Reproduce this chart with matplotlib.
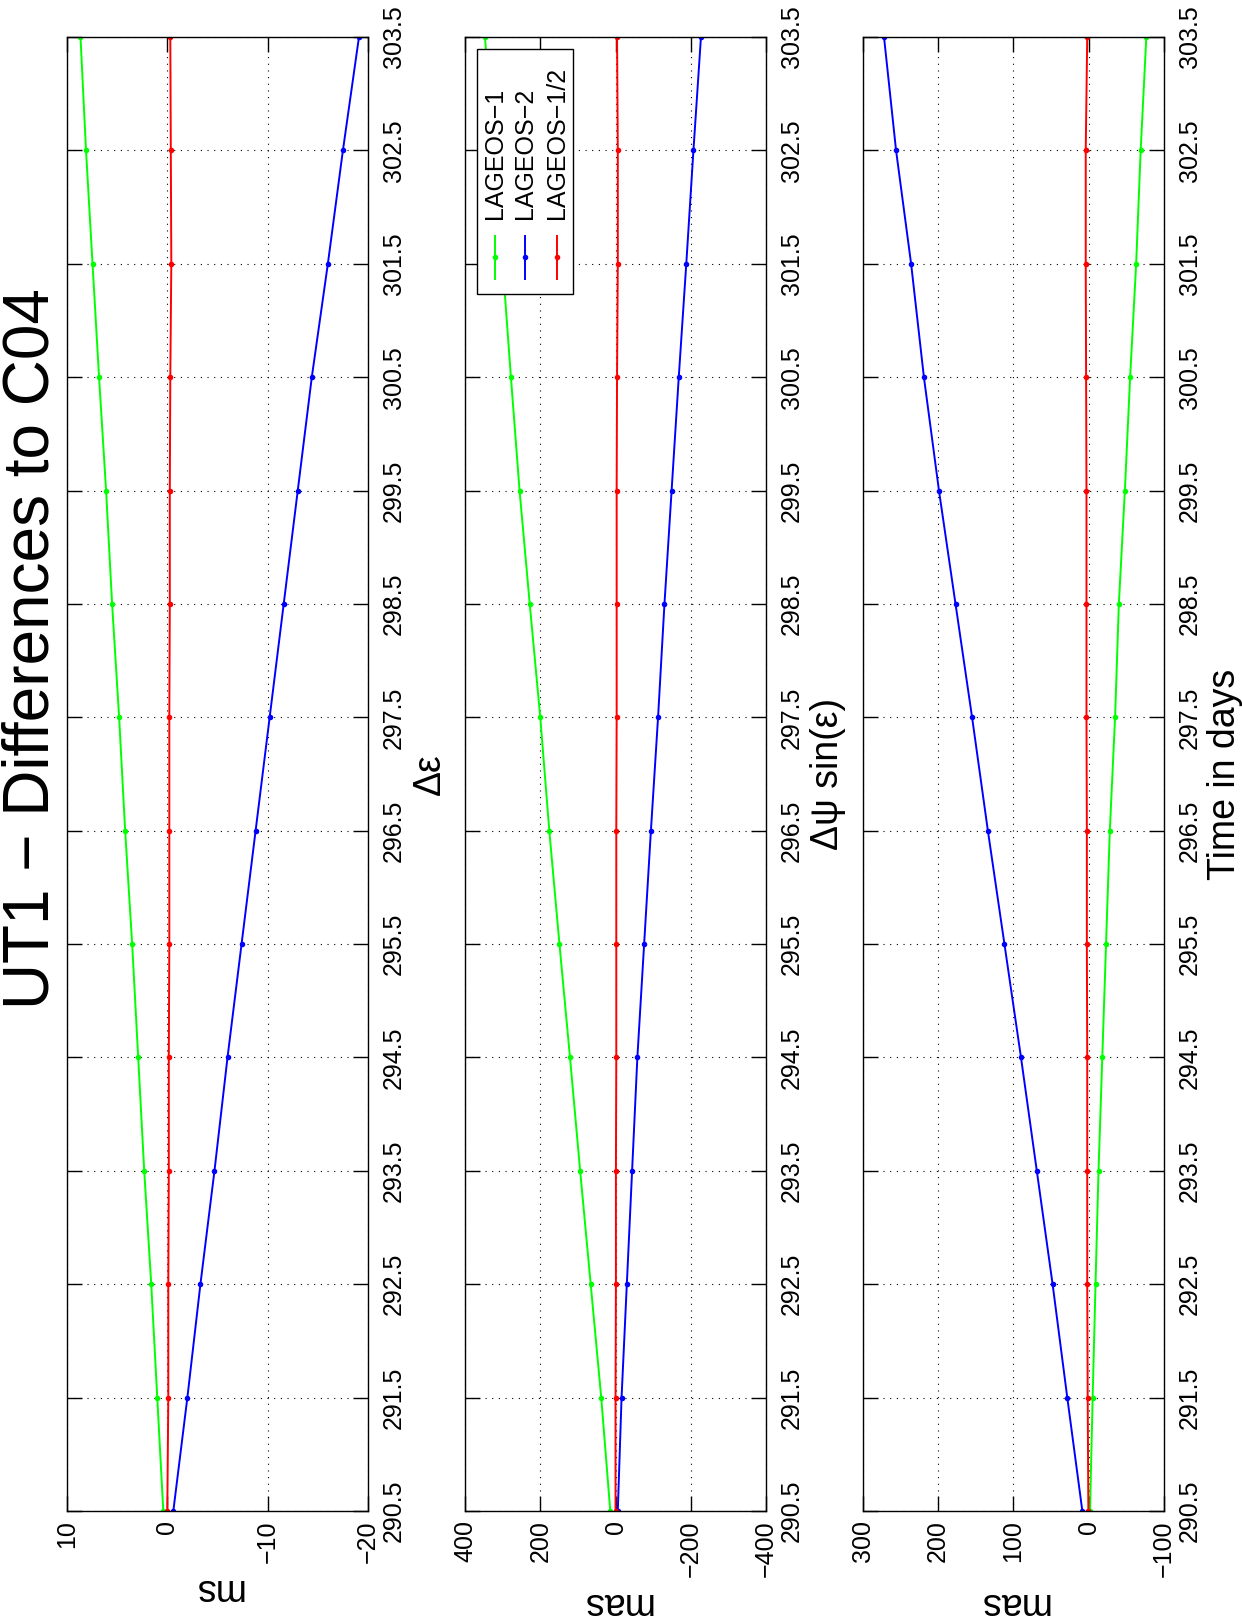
import matplotlib.pyplot as plt
from matplotlib.patches import Rectangle

plt.rcParams['font.family'] = ['Liberation Sans', 'DejaVu Sans']

# Epoques (jours)
jours = [290.5, 291.5, 292.5, 293.5, 294.5, 295.5, 296.5,
         297.5, 298.5, 299.5, 300.5, 301.5, 302.5, 303.5]

# Delta epsilon (ms)
deps_l1 = [0.4, 1.0, 1.6, 2.3, 2.9, 3.5, 4.2, 4.8, 5.5, 6.1, 6.8, 7.45, 8.1, 8.65]
deps_l2 = [-0.6, -2.0, -3.3, -4.7, -6.0, -7.4, -8.8, -10.2, -11.6, -13.0, -14.4, -16.0, -17.5, -19.1]
deps_l12 = [0.0, -0.1, -0.1, -0.15, -0.15, -0.2, -0.2, -0.2, -0.25, -0.25, -0.3, -0.4, -0.35, -0.3]

# Delta psi sin(eps) (mas)
dpsi_l1 = [14, 38, 66, 94, 121, 149, 176, 200, 228, 255, 278, 300, 324, 347]
dpsi_l2 = [-6, -16, -30, -44, -58, -76, -94, -113, -130, -149, -168, -188, -207, -227]
dpsi_l12 = [0, 0, -1, -1, -2, -2, -2, -3, -3, -3, -4, -6, -6, -4]

# Temps (mas)
dt_l1 = [-1.7, -5.2, -9, -13, -18, -23, -28, -35, -40, -48, -55, -63, -69, -76.5]
dt_l2 = [8.5, 28.5, 48, 69, 90, 112, 134, 155, 177, 199, 219, 236, 256, 272]
dt_l12 = [0.5, 1.4, 2, 2, 2, 2.5, 2.5, 3, 3, 3, 3.5, 4, 4, 2]

series = ['LAGEOS\u22121', 'LAGEOS\u22122', 'LAGEOS\u22121/2']
couleurs = ['#00ff00', '#0000ff', '#ff0000']

ticks_ms = [10, 0, -10, -20]
ticks_psi = [400, 200, 0, -200, -400]
ticks_temps = [300, 200, 100, 0, -100]

panneaux = [
    (0.0539, [deps_l1, deps_l2, deps_l12], ticks_ms, 'ms', '\u0394\u03b5'),
    (0.3744, [dpsi_l1, dpsi_l2, dpsi_l12], ticks_psi, 'mas', '\u0394\u03c8 sin(\u03b5)'),
    (0.6948, [dt_l1, dt_l2, dt_l12], ticks_temps, 'mas', 'Time in days'),
]

fig = plt.figure(figsize=(12.42, 16.23), dpi=100)

axes = []
for gauche, valeurs, ticks, unite, legende_axe in panneaux:
    ax = fig.add_axes([gauche, 0.069, 0.2424, 0.9082])
    for v, c in zip(valeurs, couleurs):
        ax.plot(v, jours, '-', color=c, lw=1.4, marker='o', ms=4, mew=0)

    ax.set_xlim(ticks[0], ticks[-1])
    ax.set_ylim(jours[0], jours[-1])
    ax.set_xticks(ticks)
    ax.set_yticks(jours)
    ax.set_yticklabels([f'{j:.1f}' for j in jours])

    ax.tick_params(direction='in', length=11, width=1, labelsize=18,
                   top=True, bottom=True, left=True, right=True,
                   labelleft=False, labelright=True)
    ax.tick_params(axis='x', labelrotation=90, pad=6.5)
    ax.tick_params(axis='y', labelrotation=90, pad=10)
    for t in ax.get_yticklabels():
        t.set_va('center')

    ax.grid(True, color='k', linestyle=(0, (1, 5)), linewidth=0.8)
    ax.set_axisbelow(True)
    for s in ax.spines.values():
        s.set_linewidth(1)

    ax.set_xlabel(unite, rotation=180, fontsize=27, labelpad=6)
    ax.yaxis.set_label_position('right')
    ax.set_ylabel(legende_axe, rotation=90, fontsize=27, labelpad=4)
    axes.append(ax)

# Legende (tournee) dans le panneau du milieu
ax = axes[1]
ax.add_patch(Rectangle((0.040, 0.8256), 0.318, 0.1663, transform=ax.transAxes,
                       facecolor='white', edgecolor='black', lw=1, zorder=5))
for x, nom, c in zip([0.099, 0.199, 0.305], series, couleurs):
    ax.plot([x, x], [0.836, 0.865], color=c, lw=1.4, transform=ax.transAxes, zorder=6)
    ax.plot([x], [0.8505], 'o', color=c, ms=4, mew=0, transform=ax.transAxes, zorder=6)
    ax.text(x, 0.8765, nom, rotation=90, ha='center', va='bottom', fontsize=18,
            transform=ax.transAxes, zorder=6)

fig.text(32 / 1242, 1 - 649 / 1623, 'UT1 \u2212 Differences to C04', rotation=90,
         fontsize=46, ha='center', va='center')

fig.savefig('out.png', dpi=100)
